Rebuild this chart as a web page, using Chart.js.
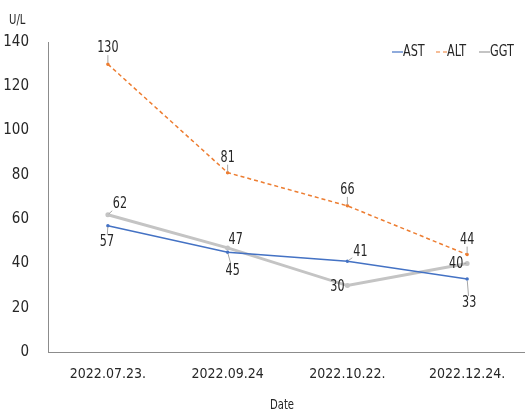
<!DOCTYPE html>
<html>
<head>
<meta charset="utf-8">
<script src="https://cdn.jsdelivr.net/npm/chart.js@4.4.0/dist/chart.umd.min.js"></script>
<style>
  html, body { margin: 0; padding: 0; background: #fff; overflow: hidden; }
</style>
</head>
<body>
<canvas id="chart" width="534" height="412"></canvas>
<script>
const dates = ['2022.07.23.', '2022.09.24', '2022.10.22.', '2022.12.24.'];
const ast = [57, 45, 41, 33];
const alt = [130, 81, 66, 44];
const ggt = [62, 47, 30, 40];
const yTicks = [0, 20, 40, 60, 80, 100, 120, 140];

const FONT = "'DejaVu Sans Condensed', 'Liberation Sans Narrow', sans-serif";
const TEXT = '#262626';

// where each value label sits relative to its point (dx, dy)
const labelOffsets = {
  AST: [[-1, 16], [5, 18], [13, -9], [2, 24]],
  ALT: [[0, -16], [0, -15], [0, -16], [0, -15]],
  GGT: [[12, -11], [8, -8], [-10, 1], [-11, 0]],
};

// narrow text: the reference uses a condensed face
function narrowText(ctx, text, x, y, sx) {
  ctx.save();
  ctx.translate(x, y);
  ctx.scale(sx, 1);
  ctx.fillText(text, 0, 0);
  ctx.restore();
}

const valueLabels = {
  id: 'valueLabels',
  afterDatasetsDraw(chart) {
    const { ctx } = chart;
    ctx.save();
    ctx.font = `16.5px ${FONT}`;
    ctx.textAlign = 'center';
    ctx.textBaseline = 'middle';
    chart.data.datasets.forEach((ds, i) => {
      const meta = chart.getDatasetMeta(i);
      const offs = labelOffsets[ds.label];
      meta.data.forEach((pt, j) => {
        const [dx, dy] = offs[j];
        const lx = pt.x + dx;
        const ly = pt.y + dy;
        const text = String(ds.data[j]);
        const hw = ctx.measureText(text).width * 0.75 / 2 + 1;
        const hh = 7;
        // leader line from the label box to the point
        const vx = pt.x - lx;
        const vy = pt.y - ly;
        const t = Math.min(vx ? hw / Math.abs(vx) : Infinity, vy ? hh / Math.abs(vy) : Infinity);
        if (t < 0.8) {
          ctx.strokeStyle = '#a6a6a6';
          ctx.lineWidth = 1;
          ctx.beginPath();
          ctx.moveTo(lx + vx * t, ly + vy * t);
          ctx.lineTo(pt.x - vx * 0.08, pt.y - vy * 0.08);
          ctx.stroke();
        }
        ctx.fillStyle = TEXT;
        narrowText(ctx, text, lx, ly, 0.75);
      });
    });
    ctx.restore();
  },
  afterDraw(chart) {
    const { ctx } = chart;
    ctx.save();
    ctx.fillStyle = TEXT;
    ctx.textBaseline = 'middle';
    ctx.font = `14px ${FONT}`;
    ctx.textAlign = 'left';
    narrowText(ctx, 'U/L', 9, 20, 0.8);
    ctx.textAlign = 'center';
    narrowText(ctx, 'Date', 282, 405, 0.8);

    // legend
    ctx.font = `16px ${FONT}`;
    ctx.textAlign = 'left';
    const lineX = [392, 436, 479];
    const y = 52;
    chart.data.datasets.forEach((ds, i) => {
      const x = lineX[i];
      ctx.strokeStyle = ds.borderColor;
      ctx.lineWidth = ds.label === 'GGT' ? 2 : 1.2;
      ctx.setLineDash(ds.borderDash || []);
      ctx.beginPath();
      ctx.moveTo(x, y);
      ctx.lineTo(x + 11, y);
      ctx.stroke();
      ctx.setLineDash([]);
      ctx.fillStyle = TEXT;
      narrowText(ctx, ds.label, x + 11, y, 0.78);
    });
    ctx.restore();
  },
};

new Chart(document.getElementById('chart'), {
  type: 'line',
  data: {
    labels: dates,
    datasets: [
      {
        label: 'AST',
        data: ast,
        borderColor: '#4472c4',
        backgroundColor: '#4472c4',
        borderWidth: 1.5,
        pointRadius: 1,
      },
      {
        label: 'ALT',
        data: alt,
        borderColor: '#ed7d31',
        backgroundColor: '#ed7d31',
        borderWidth: 1.5,
        borderDash: [4, 3],
        pointRadius: 1,
      },
      {
        label: 'GGT',
        data: ggt,
        borderColor: '#c4c4c4',
        backgroundColor: '#c4c4c4',
        borderWidth: 3,
        pointRadius: 1,
      },
    ],
  },
  options: {
    responsive: false,
    animation: false,
    layout: { padding: { top: 42, left: 0, right: 1, bottom: 0 } },
    plugins: {
      legend: { display: false },
      tooltip: { enabled: false },
    },
    scales: {
      x: {
        offset: true,
        grid: { display: false, drawTicks: false },
        border: { display: true, color: '#8c8c8c', width: 1 },
        ticks: { color: TEXT, font: { family: FONT, size: 14 }, padding: 14, maxRotation: 0 },
        afterFit: (s) => { s.height = 60; },
      },
      y: {
        min: 0,
        max: 140,
        grid: { display: false, drawTicks: false },
        border: { display: true, color: '#8c8c8c', width: 1 },
        ticks: { color: TEXT, font: { family: FONT, size: 15 }, padding: 19 },
        afterBuildTicks: (s) => { s.ticks = yTicks.map((v) => ({ value: v })); },
        afterFit: (s) => { s.width = 48; },
      },
    },
  },
  plugins: [valueLabels],
});
</script>
</body>
</html>
